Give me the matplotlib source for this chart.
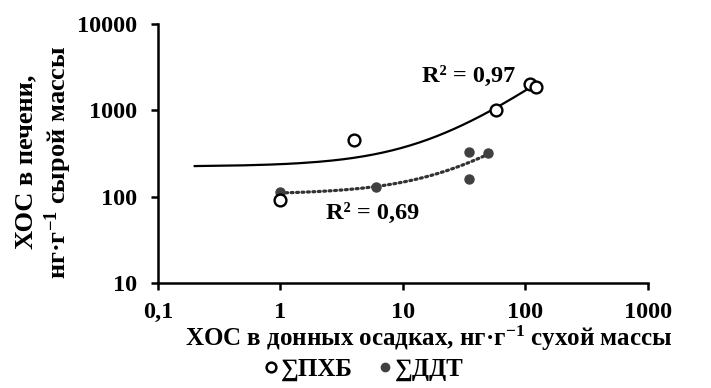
import numpy as np
import matplotlib
matplotlib.use("Agg")
import matplotlib.pyplot as plt
from matplotlib.lines import Line2D

plt.rcParams['font.family'] = ['Liberation Serif', 'DejaVu Serif']
plt.rcParams['font.weight'] = 'bold'
plt.rcParams['axes.labelweight'] = 'bold'
plt.rcParams['mathtext.fontset'] = 'custom'
plt.rcParams['mathtext.rm'] = 'Liberation Serif:bold'
plt.rcParams['mathtext.bf'] = 'Liberation Serif:bold'
plt.rcParams['mathtext.default'] = 'rm'

# data
pcb_x = [1, 4, 58, 109, 122]
pcb_y = [91, 450, 1000, 2040, 1860]
ddt_x = [1, 6, 35, 35, 50]
ddt_y = [113, 130, 330, 162, 316]
x_ticks = [0.1, 1, 10, 100, 1000]
x_ticklabels = ['0,1', '1', '10', '100', '1000']
y_ticks = [10, 100, 1000, 10000]
y_ticklabels = ['10', '100', '1000', '10000']

fig = plt.figure(figsize=(7.11, 3.88), dpi=100)
ax = fig.add_axes([0.222, 0.271, 0.689, 0.667])
ax.set_xscale('log')
ax.set_yscale('log')
ax.set_xlim(0.1, 1000)
ax.set_ylim(10, 10000)

# linear trend lines (Excel style), PCB with backward forecast to 0.2
k1, b1 = np.polyfit(pcb_x, pcb_y, 1)
xs1 = np.linspace(0.2, max(pcb_x), 400)
ax.plot(xs1, k1 * xs1 + b1, color='black', lw=1.6, zorder=2)
k2, b2 = np.polyfit(ddt_x, ddt_y, 1)
xs2 = np.linspace(min(ddt_x), max(ddt_x), 400)
ax.plot(xs2, k2 * xs2 + b2, color='#333333', lw=2.3, ls=(0, (0.6, 1.1)),
        dash_capstyle='round', zorder=2)

ax.plot(ddt_x, ddt_y, 'o', color='#404040', ms=6.5, mec='#404040', zorder=3)
ax.plot(pcb_x, pcb_y, 'o', mfc='white', mec='black', mew=1.7, ms=8.5, zorder=4)

ax.annotate('R² = 0,97', xy=(422, 388 - 76), xycoords='figure pixels',
            fontsize=17.5, va='center')
ax.annotate('R² = 0,69', xy=(326, 388 - 213), xycoords='figure pixels',
            fontsize=17.5, va='center')

for s in ['top', 'right']:
    ax.spines[s].set_visible(False)
for s in ['left', 'bottom']:
    ax.spines[s].set_linewidth(1.8)
ax.set_xticks(x_ticks)
ax.set_xticklabels(x_ticklabels)
ax.set_yticks(y_ticks)
ax.set_yticklabels(y_ticklabels)
ax.minorticks_off()
ax.tick_params(labelsize=17.5, width=1.8, length=5)
ax.tick_params(axis='x', pad=9)
ax.tick_params(axis='y', pad=10)

ax.set_xlabel('ХОС в донных осадках, нг·г$^{-1}$ сухой массы', fontsize=18, va='center')
ax.xaxis.set_label_coords(0.553, -0.215)
ax.set_ylabel('ХОС в печени,\nнг·г$^{-1}$ сырой массы', fontsize=19, va='center',
              linespacing=1.25)
ax.yaxis.set_label_coords(-0.232, 0.467)

handles = [Line2D([], [], ls='none', marker='o', mfc='white', mec='black', mew=1.8, ms=7),
           Line2D([], [], ls='none', marker='o', color='#404040', ms=6)]
fig.legend(handles, ['∑ПХБ', '∑ДДТ'], loc='center', bbox_to_anchor=(0.508, 0.047),
           ncol=2, frameon=False, fontsize=18, handletextpad=-0.1, columnspacing=0.8,
           handlelength=1.0, borderpad=0)

fig.savefig('out.png', dpi=100)
